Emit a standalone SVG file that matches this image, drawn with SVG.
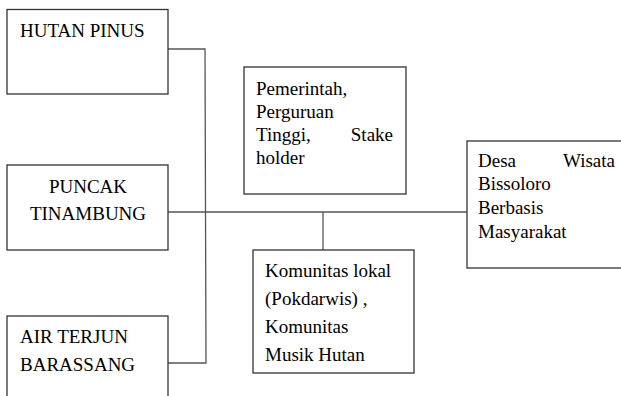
<svg xmlns="http://www.w3.org/2000/svg" width="621" height="396" viewBox="0 0 621 396">
<style>
.box{fill:#fff;stroke:#333;stroke-width:1.3}
.c{fill:none;stroke:#555;stroke-width:1.3}
</style>
<rect width="621" height="396" fill="#fff"/>
<g id="connectors">
<polyline class="c" points="168,49 205,49 206,363 168,363"/>
<line class="c" x1="168" y1="212" x2="467" y2="212"/>
<line class="c" x1="323" y1="212" x2="323" y2="250"/>
</g>
<g id="hutan-pinus">
<rect class="box" x="7" y="9.5" width="161" height="84.5"/>
<text x="20" y="37" style="font-family:Liberation Serif,serif;font-size:19px">HUTAN PINUS</text>
</g>
<g id="puncak-tinambung">
<rect class="box" x="7" y="165" width="161" height="85"/>
<text x="88" y="193" text-anchor="middle" style="font-family:Liberation Serif,serif;font-size:19px">PUNCAK</text>
<text x="88" y="220" text-anchor="middle" style="font-family:Liberation Serif,serif;font-size:19px">TINAMBUNG</text>
</g>
<g id="air-terjun">
<rect class="box" x="7" y="316" width="161" height="90"/>
<text x="20" y="343" style="font-family:Liberation Serif,serif;font-size:19px">AIR TERJUN</text>
<text x="20" y="371" style="font-family:Liberation Serif,serif;font-size:19px">BARASSANG</text>
</g>
<g id="pemerintah">
<rect class="box" x="244" y="67" width="162" height="127"/>
<text x="256" y="95" style="font-family:Liberation Serif,serif;font-size:19px">Pemerintah,</text>
<text x="256" y="118" style="font-family:Liberation Serif,serif;font-size:19px">Perguruan</text>
<text x="256" y="141" style="font-family:Liberation Serif,serif;font-size:19px">Tinggi,</text>
<text x="393" y="141" text-anchor="end" style="font-family:Liberation Serif,serif;font-size:19px">Stake</text>
<text x="256" y="164" style="font-family:Liberation Serif,serif;font-size:19px">holder</text>
</g>
<g id="komunitas">
<rect class="box" x="253" y="250" width="161" height="123"/>
<text x="265" y="277" style="font-family:Liberation Serif,serif;font-size:19px">Komunitas lokal</text>
<text x="265" y="305" style="font-family:Liberation Serif,serif;font-size:19px">(Pokdarwis) ,</text>
<text x="265" y="333" style="font-family:Liberation Serif,serif;font-size:19px">Komunitas</text>
<text x="265" y="361" style="font-family:Liberation Serif,serif;font-size:19px">Musik Hutan</text>
</g>
<g id="desa-wisata">
<rect class="box" x="467" y="141" width="170" height="127"/>
<text x="478" y="167" style="font-family:Liberation Serif,serif;font-size:19px">Desa</text>
<text x="615" y="167" text-anchor="end" style="font-family:Liberation Serif,serif;font-size:19px">Wisata</text>
<text x="478" y="190" style="font-family:Liberation Serif,serif;font-size:19px">Bissoloro</text>
<text x="478" y="214" style="font-family:Liberation Serif,serif;font-size:19px">Berbasis</text>
<text x="478" y="238" style="font-family:Liberation Serif,serif;font-size:19px">Masyarakat</text>
</g>
</svg>
